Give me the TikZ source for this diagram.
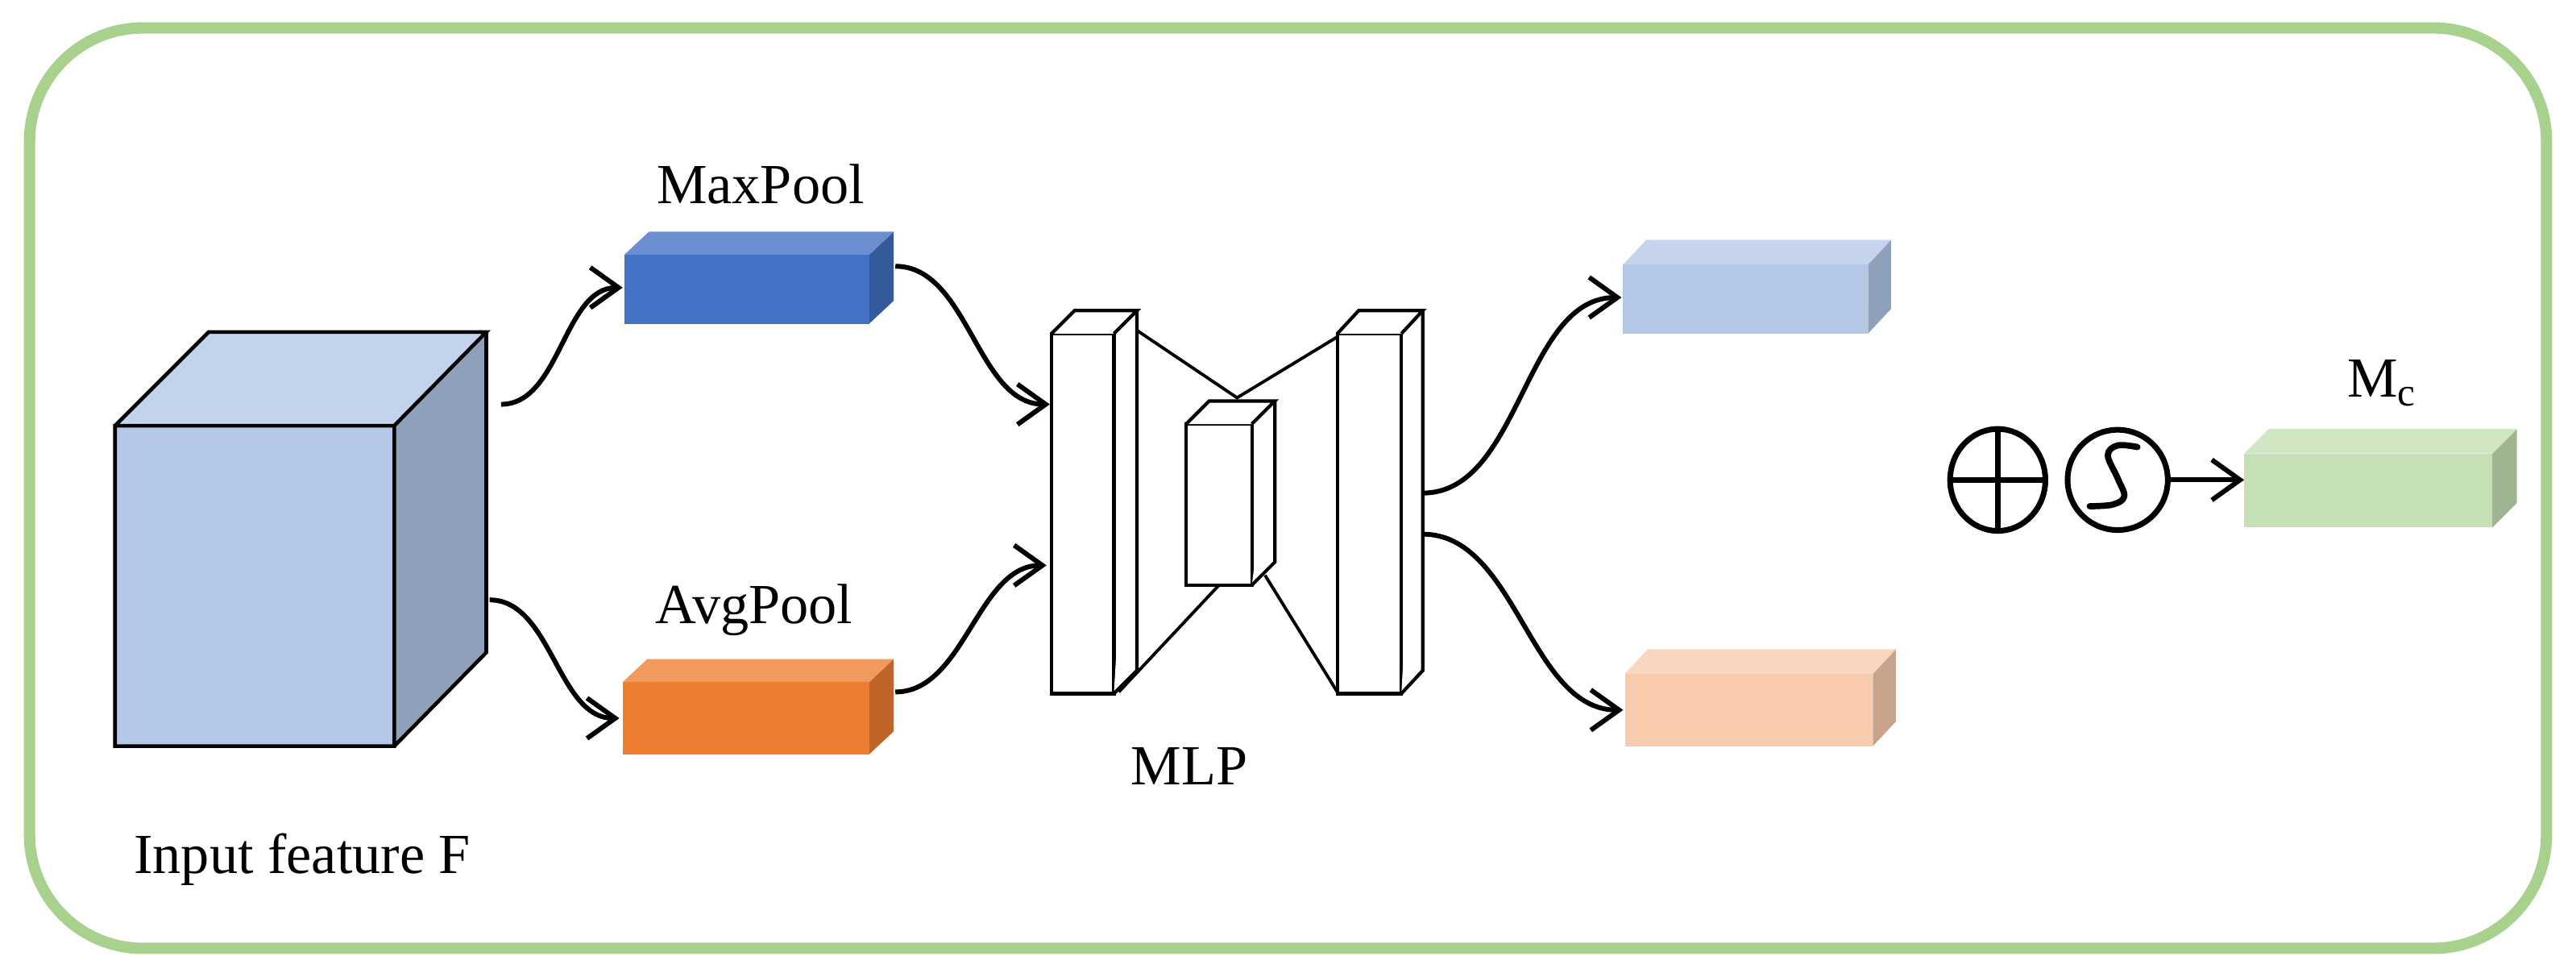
\documentclass[tikz,border=0pt]{standalone}
\usepackage{fontspec}
\setmainfont{Liberation Serif}
\usetikzlibrary{arrows.meta,calc,shapes.geometric}
\definecolor{bordergreen}{HTML}{A9D18E}
\newcommand{\cuboid}[9]{%
  \fill[#9] (#3,#2) -- ++(#5,#6) -- ($(#3,#4)+(#5,#6)$) -- (#3,#4) -- cycle;
  \fill[#8] (#1,#2) -- ++(#5,#6) -- ($(#3,#2)+(#5,#6)$) -- (#3,#2) -- cycle;
  \fill[#7] (#1,#2) rectangle (#3,#4);}
\newcommand{\slab}[6]{%
  \draw[slabline] (#1,#2) rectangle (#3,#4);
  \draw[slabline] (#1,#2) -- ++(#5,#6) -- ($(#3,#2)+(#5,#6)$) -- (#3,#2);
  \draw[slabline] ($(#3,#2)+(#5,#6)$) -- ($(#3,#4)+(#5,#6)$) -- (#3,#4);}
\begin{document}
\begin{tikzpicture}[x=0.2039mm,y=-0.2039mm,
  lbl/.style={font=\fontsize{20}{24}\selectfont, inner sep=0},
  slabline/.style={draw=black, line width=1.2pt, fill=white, line join=miter},
  conn/.style={line width=1.7pt, -{Straight Barb[length=3.5mm,width=5mm,line width=1.7pt]}},
  pt/.style={coordinate}]
\useasboundingbox (0,0) rectangle (1568,594);
\draw[bordergreen, line width=4pt, rounded corners=40pt] (18,17) rectangle (1550,577);

% input cube
\fill[fill={rgb,255:red,143;green,161;blue,186}] (240,259) -- (296,202) -- (296,397) -- (240,454) -- cycle;
\fill[fill={rgb,255:red,194;green,211;blue,235}] (70,259) -- (127,202) -- (296,202) -- (240,259) -- cycle;
\fill[fill={rgb,255:red,180;green,199;blue,231}] (70,259) rectangle (240,454);
\draw[line width=1.3pt, line join=miter] (70,259) rectangle (240,454) (70,259) -- (127,202) -- (296,202) -- (240,259) (296,202) -- (296,397) -- (240,454);
\node[lbl] (inF) at (184,523) {Input feature F};

% pools
\cuboid{380}{155}{529}{197}{15}{-14}{fill={rgb,255:red,68;green,114;blue,196}}{fill={rgb,255:red,106;green,142;blue,207}}{fill={rgb,255:red,51;green,90;blue,154}}
\cuboid{379}{415}{529}{459}{15}{-14}{fill={rgb,255:red,237;green,125;blue,49}}{fill={rgb,255:red,240;green,154;blue,94}}{fill={rgb,255:red,192;green,101;blue,42}}
\node[lbl] (maxl) at (463,112) {MaxPool};
\node[lbl] (avgl) at (459,371) {AvgPool};

% MLP
\draw[line width=1.1pt] (692,201) -- (753,242) -- (814,205);
\draw[line width=1.1pt] (681,421) -- (742,356);
\draw[line width=1.1pt] (770,350) -- (814,421);
\slab{640}{203}{678}{422}{14}{-14}
\slab{722}{258}{762}{356}{14}{-14}
\slab{814}{203}{853}{422}{13}{-14}
\node[lbl] (mlp) at (724,466) {MLP};

% outputs
\cuboid{988}{161}{1137}{203}{14}{-15}{fill={rgb,255:red,180;green,199;blue,231}}{fill={rgb,255:red,197;green,212;blue,236}}{fill={rgb,255:red,143;green,161;blue,186}}
\cuboid{989}{410}{1140}{454}{14}{-15}{fill={rgb,255:red,248;green,203;blue,173}}{fill={rgb,255:red,249;green,214;blue,191}}{fill={rgb,255:red,200;green,164;blue,140}}
\cuboid{1366}{276}{1517}{321}{15}{-15}{fill={rgb,255:red,197;green,224;blue,180}}{fill={rgb,255:red,208;green,230;blue,194}}{fill={rgb,255:red,159;green,181;blue,146}}
\node[lbl] (mc) at (1450,233) {M\textsubscript{c}};

% operators
\node[draw, line width=2pt, ellipse, minimum width=58*0.2039mm, minimum height=62*0.2039mm, inner sep=0] (plus) at (1216,292) {};
\draw[line width=2pt] (plus.north) -- (plus.south) (plus.west) -- (plus.east);
\node[draw, line width=2pt, circle, minimum size=61*0.2039mm, inner sep=0] (sig) at (1289,292) {};
\draw[line width=2.2pt, line cap=round] plot[smooth, tension=0.6] coordinates {(1301,272) (1289,271) (1283,277) (1289,291) (1293,302) (1286,307) (1272,308)};

% connector endpoints
\node[pt] (c1) at (305,246) {}; \node[pt] (m1) at (379,175) {};
\node[pt] (c2) at (298,365) {}; \node[pt] (a1) at (377,437) {};
\node[pt] (m2) at (545,162) {}; \node[pt] (l1) at (639,246) {};
\node[pt] (a2) at (545,421) {}; \node[pt] (l2) at (637,344) {};
\node[pt] (r1) at (866,300) {}; \node[pt] (b1) at (987,181) {};
\node[pt] (r2) at (866,325) {}; \node[pt] (o1) at (988,432) {};
\node[pt] (g1) at (1366,292) {};

\draw[conn] (c1) to[out=0,in=180,looseness=0.9] (m1);
\draw[conn] (c2) to[out=0,in=180,looseness=0.9] (a1);
\draw[conn] (m2) to[out=0,in=180,looseness=0.9] (l1);
\draw[conn] (a2) to[out=0,in=180,looseness=0.9] (l2);
\draw[conn] (r1) to[out=0,in=180,looseness=0.9] (b1);
\draw[conn] (r2) to[out=0,in=180,looseness=0.9] (o1);
\draw[conn] (sig) -- (g1);
\end{tikzpicture}
\end{document}
